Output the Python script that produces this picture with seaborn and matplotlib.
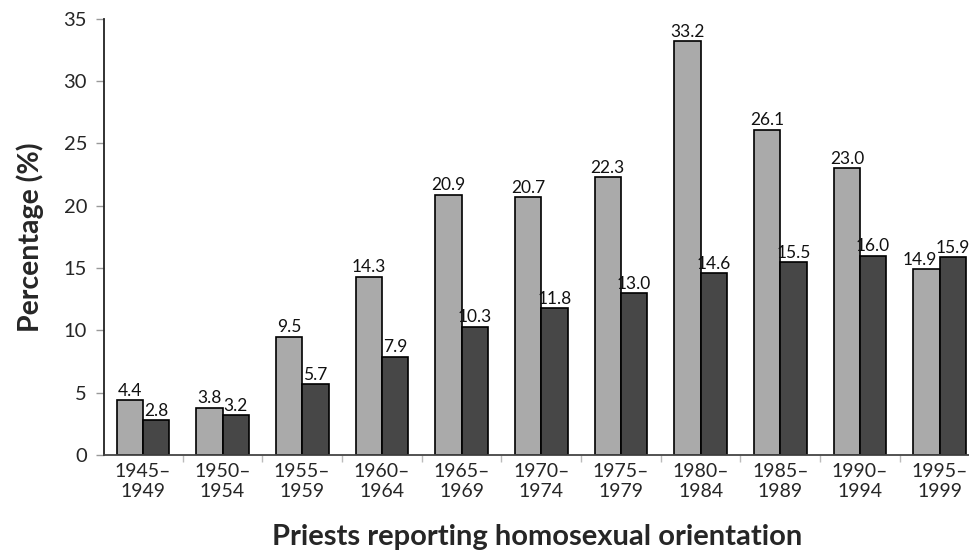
import pandas as pd
import numpy as np
import seaborn as sns
from matplotlib import pyplot as plt

"""Data"""
periods = ['1945–\n1949', '1950–\n1954', '1955–\n1959', '1960–\n1964', '1965–\n1969',
           '1970–\n1974', '1975–\n1979', '1980–\n1984', '1985–\n1989', '1990–\n1994',
           '1995–\n1999']
series_light = [4.4, 3.8, 9.5, 14.3, 20.9, 20.7, 22.3, 33.2, 26.1, 23.0, 14.9]
series_dark = [2.8, 3.2, 5.7, 7.9, 10.3, 11.8, 13.0, 14.6, 15.5, 16.0, 15.9]

df = pd.DataFrame({
    'Period': periods * 2,
    'Percentage': series_light + series_dark,
    'Series': ['A'] * len(periods) + ['B'] * len(periods),
})

"""Style"""
sns.set_style('white')
plt.rcParams['font.family'] = ['Lato', 'DejaVu Sans']

fig = plt.figure(figsize=(9.7, 5.53), dpi=100)
ax = fig.add_axes([0.107, 0.177, 0.893, 0.789])

sns.barplot(data=df, x='Period', y='Percentage', hue='Series',
            palette=['#aaaaaa', '#474747'], width=0.66, gap=0,
            edgecolor='black', linewidth=1.2, legend=False, ax=ax)

"""Value labels"""
all_labels = []
for cont in ax.containers:
    all_labels.append(ax.bar_label(cont, fmt='%.1f', padding=1, fontsize=12.5, color='#111111'))
# 14.9 sits a bit to the left so it does not touch 15.9
all_labels[0][-1].xyann = (-5, 1)

"""Axes"""
ax.set_ylim(0, 35)
ax.set_yticks(range(0, 36, 5))
ax.set_xlim(-0.49, 10.38)
ax.set_xticks(range(len(periods)))
ax.set_xticklabels(periods, fontsize=14, linespacing=1.2)
ax.set_xticks(np.arange(0.5, len(periods) - 1, 1), minor=True)
ax.tick_params(axis='x', which='major', length=0, pad=6)
ax.tick_params(axis='x', which='minor', length=5, color='#bbbbbb', width=1, bottom=True)
ax.tick_params(axis='y', length=6, color='#999999', width=1, left=True, labelsize=14.5, pad=6)

ax.set_ylabel('Percentage (%)', fontsize=20.5, fontweight='bold', labelpad=14)
ax.set_xlabel('Priests reporting homosexual orientation', fontsize=21,
              fontweight='bold', labelpad=17)

sns.despine(ax=ax)
ax.spines['left'].set_color('#222222')
ax.spines['bottom'].set_color('#444444')
ax.spines['left'].set_linewidth(1.3)
ax.spines['bottom'].set_linewidth(1.3)

plt.savefig('out.png', dpi=100)
